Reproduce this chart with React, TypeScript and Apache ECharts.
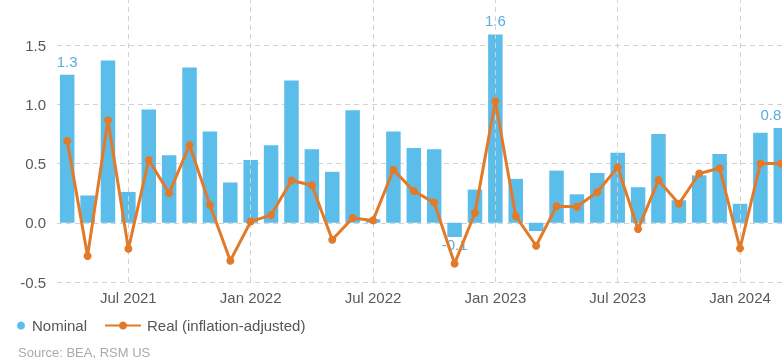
import React, { useEffect, useRef } from "react";
import * as echarts from "echarts";

const months = [
  "Apr 2021", "May 2021", "Jun 2021", "Jul 2021", "Aug 2021", "Sep 2021", "Oct 2021", "Nov 2021", "Dec 2021",
  "Jan 2022", "Feb 2022", "Mar 2022", "Apr 2022", "May 2022", "Jun 2022", "Jul 2022", "Aug 2022", "Sep 2022",
  "Oct 2022", "Nov 2022", "Dec 2022", "Jan 2023", "Feb 2023", "Mar 2023", "Apr 2023", "May 2023", "Jun 2023",
  "Jul 2023", "Aug 2023", "Sep 2023", "Oct 2023", "Nov 2023", "Dec 2023", "Jan 2024", "Feb 2024", "Mar 2024",
];

const nominal = [
  1.25, 0.23, 1.37, 0.26, 0.955, 0.57, 1.31, 0.77, 0.34,
  0.53, 0.655, 1.2, 0.62, 0.43, 0.95, 0.03, 0.77, 0.63,
  0.62, -0.12, 0.28, 1.59, 0.37, -0.07, 0.44, 0.24, 0.42,
  0.59, 0.3, 0.75, 0.19, 0.4, 0.58, 0.16, 0.76, 0.8,
];

const real = [
  0.69, -0.28, 0.865, -0.22, 0.53, 0.25, 0.655, 0.15, -0.32,
  0.01, 0.065, 0.357, 0.317, -0.143, 0.04, 0.02, 0.447, 0.267,
  0.17, -0.345, 0.084, 1.025, 0.056, -0.194, 0.14, 0.135, 0.26,
  0.469, -0.053, 0.36, 0.16, 0.416, 0.46, -0.216, 0.5, 0.5,
];

const xTickLabels = ["Jul 2021", "Jan 2022", "Jul 2022", "Jan 2023", "Jul 2023", "Jan 2024"];
const labeledMonths = ["Apr 2021", "Nov 2022", "Jan 2023", "Mar 2024"];

const FONT = "'Liberation Sans', Arial, sans-serif";
const BLUE = "#5bbde9";
const ORANGE = "#e27a2a";
const GRID = "#d2d2d2";

export default function App() {
  const ref = useRef<HTMLDivElement>(null);
  useEffect(() => {
    if (!ref.current) return;
    const chart = echarts.init(ref.current, undefined, { renderer: "svg" });
    const lastIdx = months.length - 1;
    const barData = nominal.map((v, i) => {
      if (labeledMonths.includes(months[i])) {
        return {
          value: v,
          label: {
            show: true,
            position: v < 0 ? "bottom" : "top",
            distance: v < 0 ? 0 : 6,
            offset: i === lastIdx ? [-10, 0] : [0, 0],
            formatter: (p: any) => Number(p.value).toFixed(1),
            color: "#5aaedc",
            fontSize: 15,
            fontFamily: FONT,
          },
        };
      }
      return v;
    });
    chart.setOption({
      animation: false,
      textStyle: { fontFamily: FONT },
      grid: { left: 57, right: -9, top: -14.2, bottom: 79, containLabel: false, outerBoundsMode: "none" },
      legend: [
        {
          left: 12,
          top: 313,
          itemWidth: 8,
          itemHeight: 8,
          itemGap: 10,
          data: [{ name: "Nominal", icon: "circle" }],
          textStyle: { fontSize: 15, color: "#555", fontFamily: FONT, padding: [0, 0, 0, 2] },
        },
        {
          left: 99,
          top: 313,
          itemWidth: 36,
          itemHeight: 10,
          data: [{ name: "Real (inflation-adjusted)" }],
          textStyle: { fontSize: 15, color: "#555", fontFamily: FONT, padding: [0, 0, 0, 1] },
        },
      ],
      xAxis: {
        type: "category",
        data: months,
        axisLine: { show: false },
        axisTick: { show: false },
        splitLine: { show: false },
        axisLabel: {
          interval: (idx: number, val: string) => xTickLabels.includes(val),
          color: "#595959",
          fontSize: 15,
          fontFamily: FONT,
          margin: 8,
        },
      },
      yAxis: {
        type: "value",
        min: -0.5,
        max: 2.0,
        interval: 0.5,
        axisLine: { show: false },
        axisTick: { show: false },
        axisLabel: {
          formatter: (v: number) => v.toFixed(1),
          showMaxLabel: false,
          color: "#595959",
          fontSize: 15,
          fontFamily: FONT,
          margin: 11,
        },
        splitLine: { show: true, lineStyle: { color: GRID, type: [5, 4], width: 1 } },
      },
      series: [
        {
          name: "Nominal",
          type: "bar",
          data: barData,
          barWidth: 14.5,
          itemStyle: { color: BLUE },
          markLine: {
            silent: true,
            symbol: "none",
            label: { show: false },
            lineStyle: { color: GRID, type: [5, 4], width: 1 },
            data: xTickLabels.map((m) => ({ xAxis: m })),
          },
        },
        {
          name: "Real (inflation-adjusted)",
          type: "line",
          data: real,
          symbol: "circle",
          symbolSize: 8,
          lineStyle: { color: ORANGE, width: 3 },
          itemStyle: { color: ORANGE },
          z: 5,
        },
      ],
      graphic: [
        {
          type: "text",
          left: 18,
          top: 346,
          style: { text: "Source: BEA, RSM US", fill: "#aaaaaa", fontSize: 13, fontFamily: FONT },
        },
      ],
    });
    return () => chart.dispose();
  }, []);
  return <div ref={ref} style={{ position: "fixed", left: 0, top: 0, width: 782, height: 361 }} />;
}
